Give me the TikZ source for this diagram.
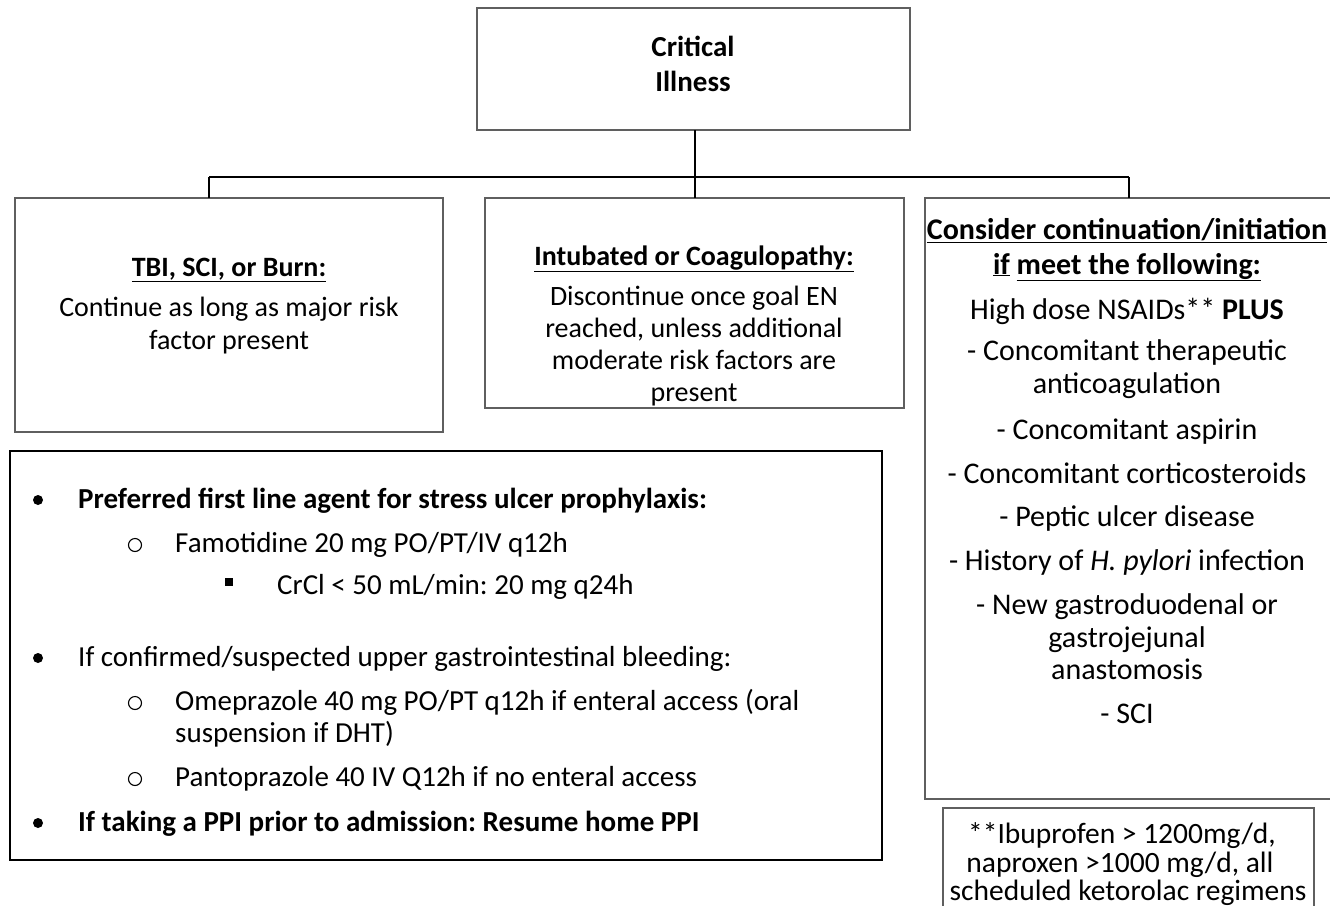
\documentclass[tikz,border=0pt]{standalone}
\usepackage{fontspec}
\setmainfont{Carlito}
\definecolor{boxgray}{RGB}{95,95,95}
\frenchspacing
\begin{document}
\begin{tikzpicture}[x=1pt,y=-1pt,
  box/.style={draw=boxgray, line width=1.3pt, inner sep=0pt, outer sep=0pt, anchor=north west},
  listbox/.style={draw=black, line width=2pt, inner sep=0pt, outer sep=0pt, anchor=north west},
  txt/.style={anchor=base, inner sep=0pt, font=\fontsize{28}{33}\selectfont},
  rtxt/.style={anchor=base, inner sep=0pt, font=\fontsize{30}{35}\selectfont},
  ftxt/.style={anchor=base, inner sep=0pt, font=\fontsize{29.5}{34}\selectfont},
  ltxt/.style={anchor=base west, inner sep=0pt, font=\fontsize{29}{34}\selectfont},
  bold/.style={font=\fontsize{28}{33}\selectfont\bfseries},
  conn/.style={draw=black, line width=1.3pt},
  dot/.style={fill=black, circle, inner sep=0pt, minimum size=10pt},
  sq/.style={fill=black, rectangle, inner sep=0pt, minimum size=8pt},
  circ/.style={draw=black, line width=1.1pt, circle, inner sep=0pt, minimum size=13pt}
]
\useasboundingbox (0,0) rectangle (1330,905);
\fill[white] (0,0) rectangle (1330,905);

% boxes
\node[box, minimum width=433pt, minimum height=122pt] (top) at (477,8) {};
\node[box, minimum width=428pt, minimum height=234pt] (b1) at (15,198) {};
\node[box, minimum width=419pt, minimum height=210pt] (b2) at (485,198) {};
\node[box, minimum width=420pt, minimum height=601pt] (b3) at (925,198) {};
\node[box, minimum width=371pt, minimum height=110pt] (fn) at (943,808) {};
\node[listbox, minimum width=872pt, minimum height=409pt] (lb) at (10,451) {};

% connectors
\coordinate (j) at (695,177);
\coordinate (jl) at (209,177);
\coordinate (jr) at (1129,177);
\draw[conn] (top.south -| j) -- (j);
\draw[conn] (jl) -- (jr);
\draw[conn] (jl) -- (jl |- b1.north);
\draw[conn] (j) -- (j |- b2.north);
\draw[conn] (jr) -- (jr |- b3.north);

% title
\node[txt, font=\fontsize{29}{34}\selectfont\bfseries] (t1) at (693,56) {Critical};
\node[txt, font=\fontsize{29}{34}\selectfont\bfseries] (t2) at (693,91) {Illness};

% left box
\node[txt, bold] (l1) at (229,276) {\underline{TBI, SCI, or Burn:}};
\node[txt] (l2) at (229,316) {Continue as long as major risk};
\node[txt] (l3) at (229,349) {factor present};

% middle box
\node[txt, bold] (m1) at (694,265) {\underline{Intubated or Coagulopathy:}};
\node[txt] (m2) at (694,305) {Discontinue once goal EN};
\node[txt] (m3) at (694,337) {reached, unless additional};
\node[txt] (m4) at (694,369) {moderate risk factors are};
\node[txt] (m5) at (694,401) {present};

% right box
\node[rtxt, font=\fontsize{30}{35}\selectfont\bfseries] (r1) at (1127,239) {\underline{Consider continuation/initiation}};
\node[rtxt, font=\fontsize{30}{35}\selectfont\bfseries] (r2) at (1127,274) {\underline{if} \underline{meet the following:}};
\node[rtxt] (r3) at (1127,319) {High dose NSAIDs** \textbf{PLUS}};
\node[rtxt] (r4) at (1127,360) {- Concomitant therapeutic};
\node[rtxt] (r5) at (1127,393) {anticoagulation};
\node[rtxt] (r6) at (1127,439) {- Concomitant aspirin};
\node[rtxt] (r7) at (1127,483) {- Concomitant corticosteroids};
\node[rtxt] (r8) at (1127,526) {- Peptic ulcer disease};
\node[rtxt] (r9) at (1127,570) {- History of \textit{H. pylori} infection};
\node[rtxt] (r10) at (1127,614) {- New gastroduodenal or};
\node[rtxt] (r11) at (1127,647) {gastrojejunal};
\node[rtxt] (r12) at (1127,679) {anastomosis};
\node[rtxt] (r13) at (1127,723) {- SCI};

% footnote
\node[ftxt] (f1) at (1122,843) {**Ibuprofen > 1200mg/d,};
\node[ftxt] (f2) at (1120,872) {naproxen >1000 mg/d, all};
\node[ftxt] (f3) at (1128,900) {scheduled ketorolac regimens};

% list
\node[dot] (d1) at (38,500) {};
\node[ltxt, font=\fontsize{29}{34}\selectfont\bfseries] (p1) at (78,508) {Preferred first line agent for stress ulcer prophylaxis:};
\node[circ] (c1) at (135,545) {};
\node[ltxt] (p2) at (175,552) {Famotidine 20 mg PO/PT/IV q12h};
\node[sq] (s1) at (229,582) {};
\node[ltxt] (p3) at (277,594) {CrCl < 50 mL/min: 20 mg q24h};
\node[dot] (d2) at (38,658) {};
\node[ltxt] (p4) at (78,666) {If confirmed/suspected upper gastrointestinal bleeding:};
\node[circ] (c2) at (135,703) {};
\node[ltxt] (p5) at (175,710) {Omeprazole 40 mg PO/PT q12h if enteral access (oral};
\node[ltxt] (p6) at (175,742) {suspension if DHT)};
\node[circ] (c3) at (135,779) {};
\node[ltxt] (p7) at (175,786) {Pantoprazole 40 IV Q12h if no enteral access};
\node[dot] (d3) at (38,823) {};
\node[ltxt, font=\fontsize{29}{34}\selectfont\bfseries] (p8) at (78,831) {If taking a PPI prior to admission: Resume home PPI};
\end{tikzpicture}
\end{document}
